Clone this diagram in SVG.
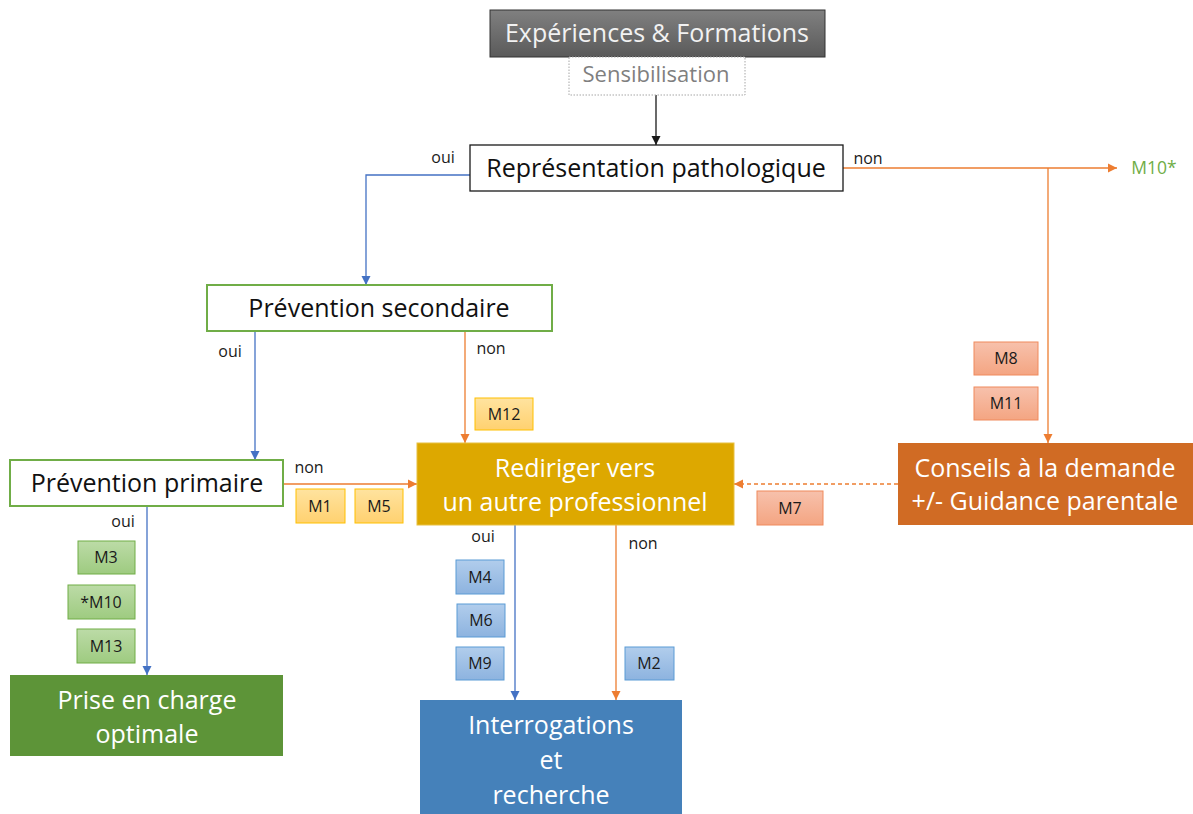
<svg xmlns="http://www.w3.org/2000/svg" width="1193" height="814" viewBox="0 0 1193 814">
<defs>
<style>
text{font-family:"Open Sans","Liberation Sans",sans-serif;text-anchor:middle}
.big{font-size:25px}
.lbl{font-size:16px;fill:#1a1a1a}
.m{font-size:16px;fill:#1a1a1a}
.wt{fill:#ffffff}
.conn{fill:none;stroke-width:1.3}
.blue{stroke:#4472c4}
.orange{stroke:#ed7d31}
.black{stroke:#1a1a1a}
.gbox{fill:#ffffff;stroke:#70ad47;stroke-width:2}
.my{fill:url(#gy);stroke:#ffc000;stroke-width:1}
.ms{fill:url(#gs);stroke:#f08a5d;stroke-width:1}
.mg{fill:url(#gg);stroke:#70ad47;stroke-width:1}
.mb{fill:url(#gb);stroke:#5b9bd5;stroke-width:1}
</style>
<linearGradient id="gtop" x1="0" y1="0" x2="0" y2="1"><stop offset="0" stop-color="#808080"/><stop offset="1" stop-color="#5a5a5a"/></linearGradient>
<linearGradient id="gy" x1="0" y1="0" x2="0" y2="1"><stop offset="0" stop-color="#ffe39f"/><stop offset="1" stop-color="#ffd170"/></linearGradient>
<linearGradient id="gs" x1="0" y1="0" x2="0" y2="1"><stop offset="0" stop-color="#f7c1ac"/><stop offset="1" stop-color="#f4a582"/></linearGradient>
<linearGradient id="gg" x1="0" y1="0" x2="0" y2="1"><stop offset="0" stop-color="#bcdba7"/><stop offset="1" stop-color="#9ecb80"/></linearGradient>
<linearGradient id="gb" x1="0" y1="0" x2="0" y2="1"><stop offset="0" stop-color="#b1cdec"/><stop offset="1" stop-color="#8db3df"/></linearGradient>
<marker id="ab" markerUnits="userSpaceOnUse" markerWidth="10" markerHeight="10" refX="9" refY="5" orient="auto"><path d="M0,0.5 L9,5 L0,9.5 z" fill="#4472c4"/></marker>
<marker id="ao" markerUnits="userSpaceOnUse" markerWidth="10" markerHeight="10" refX="9" refY="5" orient="auto"><path d="M0,0.5 L9,5 L0,9.5 z" fill="#ed7d31"/></marker>
<marker id="ak" markerUnits="userSpaceOnUse" markerWidth="10" markerHeight="10" refX="9" refY="5" orient="auto"><path d="M0,0.5 L9,5 L0,9.5 z" fill="#1a1a1a"/></marker>
</defs>
<rect width="1193" height="814" fill="#ffffff"/>

<g id="connectors">
<path class="conn black" d="M656,95 V145" marker-end="url(#ak)"/>
<path class="conn blue" d="M470,175 H366 V285" marker-end="url(#ab)"/>
<path class="conn orange" d="M843,168 H1117" marker-end="url(#ao)"/>
<path class="conn orange" d="M1048,168 V443" marker-end="url(#ao)"/>
<path class="conn blue" d="M255,331 V460" marker-end="url(#ab)"/>
<path class="conn orange" d="M465,331 V443" marker-end="url(#ao)"/>
<path class="conn orange" d="M283,484 H417" marker-end="url(#ao)"/>
<path class="conn orange" d="M898,484 H734" stroke-dasharray="4,3" marker-end="url(#ao)"/>
<path class="conn blue" d="M147,506 V675" marker-end="url(#ab)"/>
<path class="conn blue" d="M515,525 V700" marker-end="url(#ab)"/>
<path class="conn orange" d="M616,525 V700" marker-end="url(#ao)"/>
<text class="lbl" x="443" y="163">oui</text>
<text class="lbl" x="868" y="164">non</text>
<text class="lbl" x="230" y="357">oui</text>
<text class="lbl" x="491" y="354">non</text>
<text class="lbl" x="309" y="473">non</text>
<text class="lbl" x="123" y="527">oui</text>
<text class="lbl" x="483" y="542">oui</text>
<text class="lbl" x="643" y="549">non</text>
<text x="1154" y="174" style="font-size:17.5px;fill:#70ad47">M10*</text>
</g>

<g id="experiences">
<rect x="490" y="10" width="335" height="47" fill="url(#gtop)" stroke="#333333" stroke-width="1"/>
<text class="big" x="657" y="42" fill="#f2f2f2">Expériences &amp; Formations</text>
</g>
<g id="sensibilisation">
<rect x="569" y="57" width="176" height="38" fill="#ffffff" stroke="#a6a6a6" stroke-width="1" stroke-dasharray="1.5,1.5"/>
<text x="656" y="82" style="font-size:22px;fill:#7f7f7f">Sensibilisation</text>
</g>
<g id="representation">
<rect x="470" y="145" width="373" height="46" fill="#ffffff" stroke="#1a1a1a" stroke-width="1.3"/>
<text class="big" x="656" y="177" fill="#111111">Représentation pathologique</text>
</g>
<g id="prev-secondaire">
<rect class="gbox" x="207" y="285" width="345" height="46"/>
<text class="big" x="379" y="317" fill="#111111">Prévention secondaire</text>
</g>
<g id="prev-primaire">
<rect class="gbox" x="10" y="460" width="273" height="46"/>
<text class="big" x="147" y="492" fill="#111111">Prévention primaire</text>
</g>
<g id="rediriger">
<rect x="417" y="443" width="317" height="82" fill="#dda800" stroke="#e8c040" stroke-width="1"/>
<text class="big wt" x="575" y="477">Rediriger vers</text>
<text class="big wt" x="575" y="511">un autre professionnel</text>
</g>
<g id="conseils">
<rect x="898" y="443" width="295" height="82" fill="#d06b24"/>
<text class="big wt" x="1045" y="477">Conseils à la demande</text>
<text class="big wt" x="1045" y="510">+/- Guidance parentale</text>
</g>
<g id="prise">
<rect x="10" y="675" width="273" height="81" fill="#5d9438"/>
<text class="big wt" x="147" y="709">Prise en charge</text>
<text class="big wt" x="147" y="743">optimale</text>
</g>
<g id="interrogations">
<rect x="420" y="700" width="262" height="114" fill="#4581ba"/>
<text class="big wt" x="551" y="734">Interrogations</text>
<text class="big wt" x="551" y="769">et</text>
<text class="big wt" x="551" y="804">recherche</text>
</g>

<g id="m12"><rect class="my" x="475" y="398" width="58" height="32"/><text class="m" x="504" y="420">M12</text></g>
<g id="m1"><rect class="my" x="296" y="489" width="49" height="34"/><text class="m" x="320" y="512">M1</text></g>
<g id="m5"><rect class="my" x="355" y="489" width="48" height="34"/><text class="m" x="379" y="512">M5</text></g>
<g id="m7"><rect class="ms" x="757" y="491" width="66" height="34"/><text class="m" x="790" y="514">M7</text></g>
<g id="m8"><rect class="ms" x="974" y="342" width="64" height="33"/><text class="m" x="1006" y="364">M8</text></g>
<g id="m11"><rect class="ms" x="974" y="387" width="64" height="33"/><text class="m" x="1006" y="409">M11</text></g>
<g id="m3"><rect class="mg" x="78" y="541" width="57" height="33"/><text class="m" x="106" y="563">M3</text></g>
<g id="m10"><rect class="mg" x="68" y="585" width="67" height="34"/><text class="m" x="101" y="608">*M10</text></g>
<g id="m13"><rect class="mg" x="77" y="629" width="58" height="34"/><text class="m" x="106" y="652">M13</text></g>
<g id="m4"><rect class="mb" x="456" y="560" width="48" height="34"/><text class="m" x="480" y="583">M4</text></g>
<g id="m6"><rect class="mb" x="457" y="604" width="48" height="33"/><text class="m" x="481" y="626">M6</text></g>
<g id="m9"><rect class="mb" x="456" y="647" width="48" height="33"/><text class="m" x="480" y="669">M9</text></g>
<g id="m2"><rect class="mb" x="625" y="647" width="49" height="33"/><text class="m" x="649" y="669">M2</text></g>
</svg>
